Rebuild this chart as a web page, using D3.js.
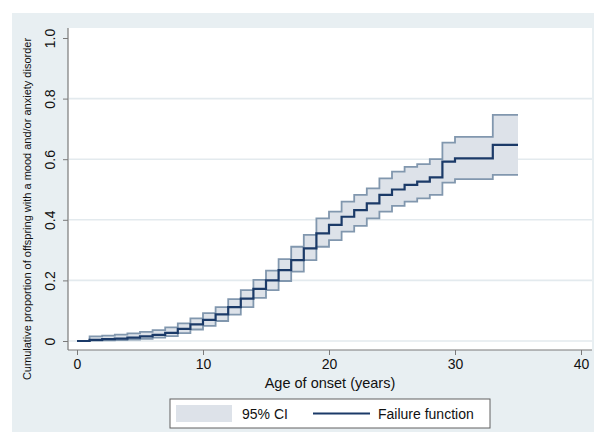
<!DOCTYPE html>
<html><head><meta charset="utf-8">
<script src="https://cdn.jsdelivr.net/npm/d3@7"></script>
<style>
html,body{margin:0;padding:0;background:#ffffff;}
svg{display:block;font-family:"Liberation Sans",Arial,sans-serif;}
</style></head>
<body>
<svg id="chart" width="595" height="434"></svg>
<script>
// ---- data ----
const ages = [0,1,2,3,4,5,6,7,8,9,10,11,12,13,14,15,16,17,18,19,20,21,22,23,24,25,26,27,28,29,30,31,32,33,34,35];
const failure = [0,0.004,0.006,0.008,0.011,0.015,0.02,0.027,0.04,0.055,0.07,0.088,0.112,0.14,0.172,0.2,0.234,0.267,0.306,0.355,0.383,0.41,0.432,0.454,0.482,0.5,0.515,0.526,0.54,0.592,0.603,0.603,0.603,0.647,0.647,0.647];
const ciLower = [0,0.001,0.002,0.003,0.005,0.007,0.011,0.016,0.026,0.038,0.05,0.066,0.087,0.112,0.142,0.168,0.198,0.229,0.267,0.311,0.333,0.361,0.38,0.405,0.427,0.446,0.46,0.471,0.482,0.523,0.534,0.534,0.534,0.548,0.548,0.548];
const ciUpper = [0,0.015,0.018,0.021,0.025,0.03,0.036,0.045,0.058,0.075,0.092,0.112,0.138,0.168,0.202,0.232,0.27,0.311,0.35,0.405,0.427,0.46,0.482,0.504,0.537,0.559,0.575,0.584,0.6,0.655,0.674,0.674,0.674,0.746,0.746,0.746];
const xTicks = [0,10,20,30,40];
const yTicks = [0,0.2,0.4,0.6,0.8,1.0];
const yGrid = [0,0.2,0.4,0.6,0.8];
const legendLabels = ["95% CI","Failure function"];
const xTitle = "Age of onset (years)";
const yTitle = "Cumulative proportion of offspring with a mood and/or anxiety disorder";

const rows = ages.map((a,i)=>({a, f:failure[i], lo:ciLower[i], hi:ciUpper[i]}));

const svg = d3.select("#chart");
const x = d3.scaleLinear().domain([0,40]).range([77,581]);
const y = d3.scaleLinear().domain([0,1]).range([341,38]);

// outer background
svg.append("rect").attr("x",12).attr("y",13).attr("width",582).attr("height",419).attr("fill","#e8eff2");
// plot region
svg.append("rect").attr("x",68).attr("y",28).attr("width",524).attr("height",322).attr("fill","#ffffff");

// gridlines
svg.append("g").selectAll("line").data(yGrid).join("line")
  .attr("x1",69).attr("x2",592).attr("y1",d=>y(d)).attr("y2",d=>y(d))
  .attr("stroke","#e3eaee").attr("stroke-width",1.6);

// CI area
const area = d3.area().curve(d3.curveStepAfter).x(d=>x(d.a)).y0(d=>y(d.lo)).y1(d=>y(d.hi));
svg.append("path").datum(rows).attr("d",area).attr("fill","#dde2e9");
const ciLine = key => d3.line().curve(d3.curveStepAfter).x(d=>x(d.a)).y(d=>y(d[key]));
["lo","hi"].forEach(k=>{
  svg.append("path").datum(rows).attr("d",ciLine(k)).attr("fill","none")
    .attr("stroke","#8197ae").attr("stroke-width",1.8);
});
// failure line
svg.append("path").datum(rows).attr("d",ciLine("f")).attr("fill","none")
  .attr("stroke","#1b3a68").attr("stroke-width",2.2);

// axes
const axisColor = "#7a7a7a";
svg.append("line").attr("x1",68).attr("x2",68).attr("y1",28).attr("y2",350).attr("stroke",axisColor).attr("stroke-width",1.2);
svg.append("line").attr("x1",68).attr("x2",592).attr("y1",350).attr("y2",350).attr("stroke",axisColor).attr("stroke-width",1.2);

const yAxis = d3.axisLeft(y).tickValues(yTicks).tickSize(5).tickPadding(0)
  .tickFormat(d=> d===0 ? "0" : d3.format(".1f")(d));
const gy = svg.append("g").attr("transform","translate(68,0)").call(yAxis);
gy.select(".domain").remove();
gy.selectAll(".tick line").attr("stroke",axisColor).attr("stroke-width",1);
gy.selectAll(".tick text").attr("x",0).attr("dy",0)
  .attr("transform","translate(-13,0) rotate(-90)")
  .attr("text-anchor","middle").attr("fill","#111").style("font-size","14px")
  .style("font-family","'Liberation Sans',Arial,sans-serif");

const xAxis = d3.axisBottom(x).tickValues(xTicks).tickSize(5).tickPadding(4).tickFormat(d3.format("d"));
const gx = svg.append("g").attr("transform","translate(0,350)").call(xAxis);
gx.select(".domain").remove();
gx.selectAll(".tick line").attr("stroke",axisColor).attr("stroke-width",1);
gx.selectAll(".tick text").attr("fill","#111").style("font-size","14px")
  .style("font-family","'Liberation Sans',Arial,sans-serif");

// titles
svg.append("text").attr("x",330).attr("y",388).attr("text-anchor","middle")
  .attr("fill","#111").style("font-size","14.5px").text(xTitle);
svg.append("text").attr("transform","translate(31,209) rotate(-90)").attr("text-anchor","middle")
  .attr("fill","#111").style("font-size","11px").text(yTitle);

// legend
const lg = svg.append("g");
lg.append("rect").attr("x",170).attr("y",399).attr("width",320).attr("height",29)
  .attr("fill","#ffffff").attr("stroke","#606060").attr("stroke-width",1);
lg.append("rect").attr("x",176).attr("y",405).attr("width",56).attr("height",17).attr("fill","#dde2e9");
lg.append("text").attr("x",242).attr("y",419).attr("fill","#111").style("font-size","14px").text(legendLabels[0]);
lg.append("line").attr("x1",313).attr("x2",370).attr("y1",413.5).attr("y2",413.5).attr("stroke","#1b3a68").attr("stroke-width",2.2);
lg.append("text").attr("x",378).attr("y",419).attr("fill","#111").style("font-size","14px").text(legendLabels[1]);
</script>
</body></html>
